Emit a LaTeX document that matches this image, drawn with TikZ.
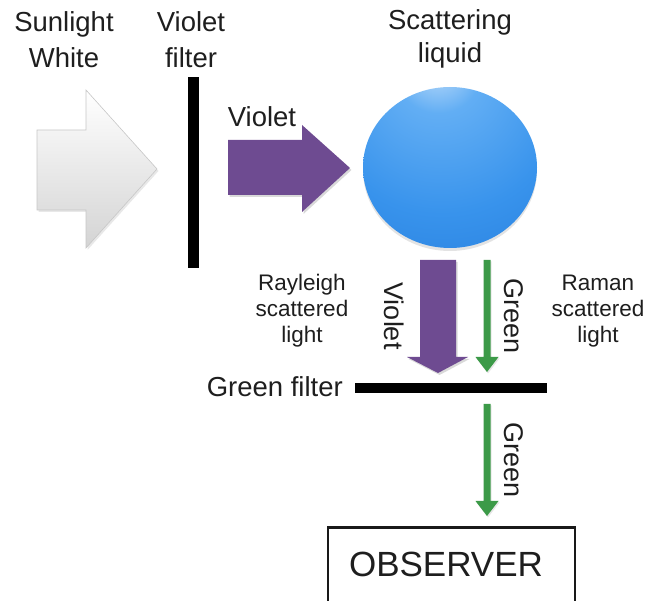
\documentclass[tikz,border=0pt]{standalone}
\usepackage{fontspec}
\setmainfont{Liberation Sans}
\usetikzlibrary{shadows,shapes.geometric}
\definecolor{violetarr}{HTML}{6E4B91}
\definecolor{greenarr}{HTML}{3C9A48}
\definecolor{sphL}{HTML}{CFE5FB}
\definecolor{sphA}{HTML}{62AEF4}
\definecolor{sphM}{HTML}{3893EC}
\definecolor{sphD}{HTML}{247ADA}
\definecolor{sphE}{HTML}{1863C2}
\definecolor{txt}{HTML}{1E1E1E}
\pgfdeclareradialshading{spheresh}{\pgfpoint{-4bp}{34bp}}{color(0bp)=(sphL); color(12bp)=(sphA); color(34bp)=(sphM); color(58bp)=(sphD); color(80bp)=(sphE)}
\begin{document}
\begin{tikzpicture}[x=1pt,y=-1pt,
  lbl/.style={font=\fontsize{27.5}{33}\selectfont, inner sep=0, anchor=base, text=txt},
  sm/.style={font=\fontsize{22.5}{27}\selectfont, inner sep=0, anchor=base, text=txt},
  vert/.style={font=\fontsize{27}{32}\selectfont, inner sep=0, rotate=-90, text=txt},
  bar/.style={fill=black},
  purp/.style={fill=violetarr, drop shadow={opacity=.3, shadow xshift=1.5pt, shadow yshift=-2pt}},
  grn/.style={fill=greenarr, drop shadow={opacity=.2, shadow xshift=1pt, shadow yshift=-1.5pt}},
  whitearr/.style={top color=white, bottom color=black!17, draw=black!22, line width=0.6pt,
     drop shadow={opacity=.18, shadow xshift=1.5pt, shadow yshift=-2pt}}]
\useasboundingbox (0,0) rectangle (651,601);
\clip (0,0) rectangle (651,601);
% titles
\node[lbl] (sun1) at (64,32) {Sunlight};
\node[lbl] (sun2) at (64,68) {White};
\node[lbl] (vf1) at (191,32) {Violet};
\node[lbl] (vf2) at (191,68) {filter};
\node[lbl] (sc1) at (450,30) {Scattering};
\node[lbl] (sc2) at (450,63) {liquid};
\node[lbl] (vlab) at (262,127) {Violet};
% white arrow
\path[whitearr] (37,130) -- (86,130) -- (86,90) -- (157,169) -- (86,248) -- (86,210) -- (37,210) -- cycle;
% violet filter
\fill[bar] (188,77) rectangle (199,268);
% violet arrow
\path[purp] (228,140) -- (302,140) -- (302,125) -- (350,168) -- (302,212) -- (302,195) -- (228,195) -- cycle;
% sphere
\node[ellipse, minimum width=174pt, minimum height=161pt, inner sep=0, shading=spheresh,
  drop shadow={opacity=.22, shadow xshift=0pt, shadow yshift=-3pt}] (liquid) at (450,167.5) {};
% scattered arrows
\path[purp] (420,260) -- (456,260) -- (456,357) -- (468,357) -- (438,373) -- (407,357) -- (420,357) -- cycle;
\path[grn] (483.5,260) -- (490.5,260) -- (490.5,357) -- (498.5,357) -- (487,372) -- (475.5,357) -- (483.5,357) -- cycle;
\node[vert] (vrot) at (394,316) {Violet};
\node[vert] (grot1) at (514,316) {Green};
\node[sm] (ray1) at (302,291) {Rayleigh};
\node[sm] (ray2) at (302,317) {scattered};
\node[sm] (ray3) at (302,343) {light};
\node[sm] (ram1) at (598,291) {Raman};
\node[sm] (ram2) at (598,317) {scattered};
\node[sm] (ram3) at (598,343) {light};
% green filter
\node[lbl, anchor=base east] (gf) at (343,397) {Green filter};
\fill[bar] (355,383) rectangle (547,393);
% green arrow to observer
\path[grn] (483.5,404) -- (490.5,404) -- (490.5,501) -- (498.5,501) -- (487,516) -- (475.5,501) -- (483.5,501) -- cycle;
\node[vert] (grot2) at (514,460) {Green};
% observer
\node[draw=black!90, line width=2.5pt, minimum width=247pt, minimum height=120pt, inner sep=0, anchor=north] (obs) at (451.5,526) {};
\node[font=\fontsize{35}{40}\selectfont, inner sep=0, anchor=base, text=txt] (obstext) at (446,576) {OBSERVER};
\end{tikzpicture}
\end{document}
